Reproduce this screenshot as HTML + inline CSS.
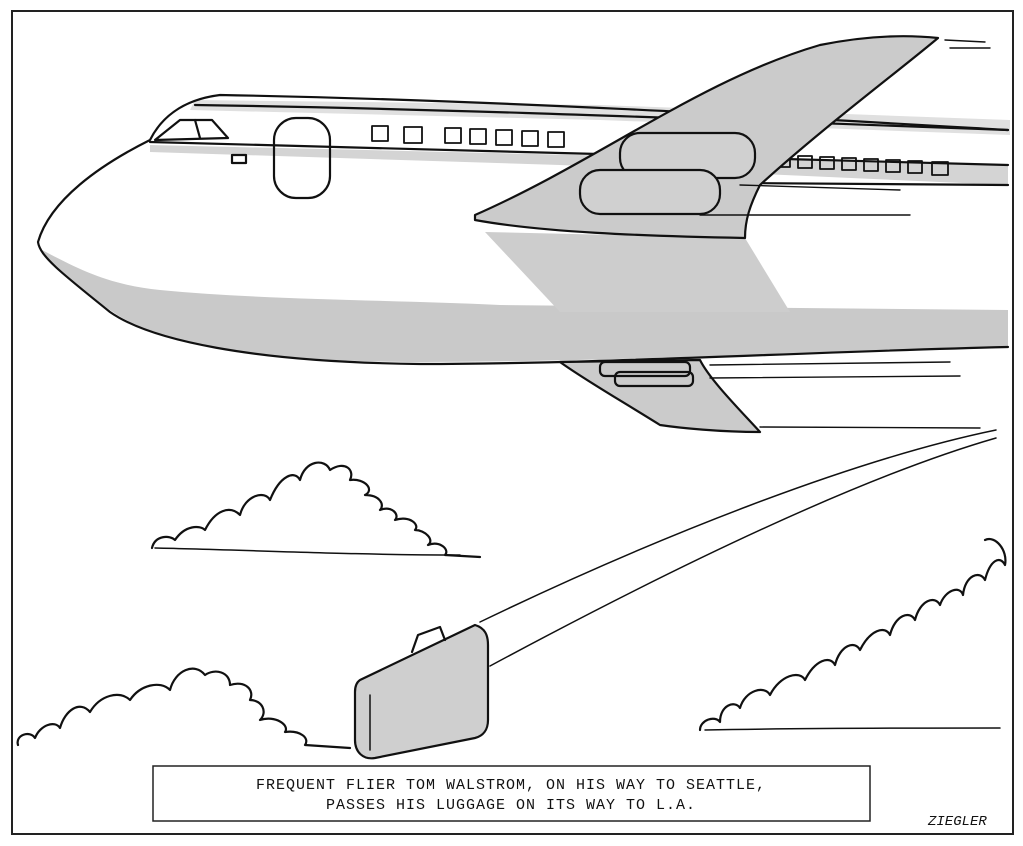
<!DOCTYPE html>
<html><head><meta charset="utf-8"><style>
html,body{margin:0;padding:0;background:#fff;}
svg{display:block}
text{font-family:"Liberation Mono",monospace;}
</style></head><body>
<svg width="1023" height="846" viewBox="0 0 1023 846" xmlns="http://www.w3.org/2000/svg">
<rect x="0" y="0" width="1023" height="846" fill="#fff"/>
<rect x="12" y="11" width="1001" height="823" fill="none" stroke="#222" stroke-width="2"/>
<g stroke="#111" stroke-width="2.2" fill="none" stroke-linecap="round" stroke-linejoin="round">
<!-- fuselage lower gray -->
<path d="M42,250 C80,270 110,285 160,290 C260,300 400,300 500,305 L1008,310 L1008,348 C800,352 600,362 420,362 C250,362 150,340 110,310 C80,290 55,270 42,250Z" fill="#c9c9c9" stroke="none"/>
<!-- shading under wing -->
<path d="M485,232 L745,238 L790,312 L560,312 Z" fill="#cdcdcd" stroke="none"/>
<!-- fuselage band -->
<path d="M150,145 L1008,165 L1008,185 L560,165 L150,152Z" fill="#d4d4d4" stroke="none"/>
<path d="M195,100 L600,105 L1010,120 L1010,135 L600,120 L190,110Z" fill="#e0e0e0" stroke="none"/>
<!-- fuselage outline -->
<path d="M1008,130 C800,118 500,100 220,95 C180,100 160,120 150,140 C100,165 50,200 38,242 C40,256 60,272 110,312 C150,340 250,362 420,364 C600,364 800,352 1008,347"/>
<path d="M150,142 C300,145 500,150 1008,165"/>
<path d="M195,105 C400,108 600,115 1008,130"/>
<path d="M1008,185 L740,183"/>
<!-- cockpit -->
<path d="M155,140 L180,120 L212,120 L228,138 Z"/>
<path d="M195,120 L200,138"/>
<rect x="232" y="155" width="14" height="8"/>
<!-- door -->
<rect x="274" y="118" width="56" height="80" rx="22"/>
<!-- windows row -->
<g stroke-width="1.8">
<rect x="372" y="126" width="16" height="15"/><rect x="404" y="127" width="18" height="16"/>
<rect x="445" y="128" width="16" height="15"/><rect x="470" y="129" width="16" height="15"/>
<rect x="496" y="130" width="16" height="15"/><rect x="522" y="131" width="16" height="15"/>
<rect x="548" y="132" width="16" height="15"/>
<rect x="776" y="155" width="14" height="12"/><rect x="798" y="156" width="14" height="12"/>
<rect x="820" y="157" width="14" height="12"/><rect x="842" y="158" width="14" height="12"/>
<rect x="864" y="159" width="14" height="12"/><rect x="886" y="160" width="14" height="12"/>
<rect x="908" y="161" width="14" height="12"/><rect x="932" y="162" width="16" height="13"/>
</g>
<!-- upper wing -->
<path d="M475,215 C600,160 700,80 820,45 C870,35 910,35 938,38 C900,70 820,130 760,185 C750,205 745,220 745,238 C640,236 540,232 475,220 Z" fill="#cbcbcb"/>
<!-- engines -->
<rect x="620" y="133" width="135" height="45" rx="20" fill="#d0d0d0"/>
<rect x="580" y="170" width="140" height="44" rx="20" fill="#d0d0d0"/>
<!-- lower wing -->
<path d="M560,362 L700,360 C710,380 740,410 760,432 C720,432 680,428 660,425 C620,400 585,380 560,362Z" fill="#cbcbcb"/>
<rect x="600" y="362" width="90" height="14" rx="5"/>
<rect x="615" y="372" width="78" height="14" rx="5"/>
<!-- speed lines -->
<g stroke-width="1.4">
<path d="M945,40 L985,42"/><path d="M950,48 L990,48"/>
<path d="M740,185 L900,190"/><path d="M700,215 L910,215"/>
<path d="M710,365 L950,362"/><path d="M710,378 L960,376"/><path d="M760,427 L980,428"/>
</g>
<!-- suitcase trail -->
<path d="M480,622 C650,540 850,460 996,430" stroke-width="1.5"/>
<path d="M490,666 C650,580 850,480 996,438" stroke-width="1.5"/>
<!-- suitcase -->
<path d="M360,680 L475,625 C485,628 488,635 488,645 L488,720 C488,730 483,736 475,738 L375,758 C363,760 355,752 355,740 L355,692 C355,686 357,682 360,680Z" fill="#cfcfcf"/>
<path d="M370,695 L370,750" stroke-width="1.5"/>
<path d="M412,652 L418,635 L440,627 L445,640" />
<!-- clouds -->
<path d="M152,548 C155,535 170,535 175,540 C185,525 200,525 205,530 C215,510 230,505 240,515 C245,495 265,490 270,500 C280,475 295,470 300,480 C305,460 325,458 330,470 C345,460 355,470 350,480 C365,478 375,490 365,495 C380,495 385,505 380,510 C392,505 400,515 395,520 C410,515 420,525 415,530 C425,530 435,540 428,545 C440,540 450,550 445,555 L480,557"/>
<path d="M155,548 C250,550 350,555 460,555" stroke-width="1.5"/>
<path d="M18,745 C15,735 30,730 35,738 C40,725 55,720 60,728 C65,710 80,700 90,712 C100,695 120,690 130,700 C140,685 160,680 170,690 C175,670 195,662 205,675 C215,668 230,672 230,685 C245,680 255,690 250,700 C262,700 268,712 260,720 C275,715 290,725 285,732 C300,730 310,738 305,745 L350,748"/>
<path d="M700,730 C700,720 715,715 720,722 C720,705 735,700 740,708 C745,690 765,685 770,695 C780,675 800,670 805,680 C815,660 830,655 835,665 C840,645 855,640 860,650 C870,630 885,625 890,635 C895,615 910,610 915,620 C920,600 935,595 940,605 C945,590 960,585 963,595 C965,575 980,570 985,580 C990,560 1000,555 1005,565 C1008,550 995,535 985,540"/>
<path d="M705,730 C800,728 900,728 1000,728" stroke-width="1.5"/>
</g>
<!-- caption -->
<rect x="153" y="766" width="717" height="55" fill="#fff" stroke="#222" stroke-width="1.5"/>
<text x="511" y="789" font-size="15" text-anchor="middle" fill="#111" letter-spacing="1">FREQUENT FLIER TOM WALSTROM, ON HIS WAY TO SEATTLE,</text>
<text x="511" y="809" font-size="15" text-anchor="middle" fill="#111" letter-spacing="1">PASSES HIS LUGGAGE ON ITS WAY TO L.A.</text>
<text x="928" y="825" font-size="14" fill="#111" font-style="italic">ZIEGLER</text>
</svg>
</body></html>
